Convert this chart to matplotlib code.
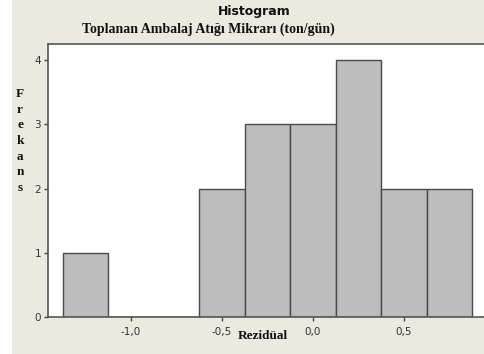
import matplotlib.pyplot as plt
from matplotlib.patches import Rectangle
from matplotlib.ticker import FuncFormatter

# histogram bins (centre of each class) and counts
bin_centers = [-1.25, -1.0, -0.75, -0.5, -0.25, 0.0, 0.25, 0.5, 0.75]
counts = [1, 0, 0, 2, 3, 3, 4, 2, 2]
bin_width = 0.25

xticks = [-1.0, -0.5, 0.0, 0.5]
yticks = [0, 1, 2, 3, 4]

W, H = 484, 354
bg = '#ECE9E0'

fig = plt.figure(figsize=(W / 100, H / 100), dpi=100, facecolor=bg)
# white strip on the left edge
fig.patches.append(Rectangle((0, 0), 12 / W, 1, transform=fig.transFigure,
                             facecolor='white', edgecolor='none', zorder=0))

left, right, top, bottom = 48, 495, 44, 317
ax = fig.add_axes([left / W, 1 - bottom / H, (right - left) / W, (bottom - top) / H])
ax.set_facecolor('white')

ax.bar(bin_centers, counts, width=bin_width, color='#BDBDBD',
       edgecolor='#4A4A4A', linewidth=1.0, zorder=2)

ax.set_xlim(-1.456, 1.0)
ax.set_ylim(0, 4.25)
ax.set_xticks(xticks)
ax.set_yticks(yticks)
ax.xaxis.set_major_formatter(FuncFormatter(lambda v, p: f'{v:.1f}'.replace('.', ',')))
ax.tick_params(direction='out', length=3, width=1, color='#444444',
               labelsize=7.5, labelcolor='#333333', pad=2)
ax.tick_params(axis='x', pad=4)
for s in ax.spines.values():
    s.set_color('#555555')
    s.set_linewidth(1.2)

# titles and axis labels
fig.text(254 / W, 1 - 11 / H, 'Histogram', ha='center', va='center',
         fontsize=9, fontweight='bold', family='DejaVu Sans', color='#111111')
fig.text(208 / W, 1 - 29 / H, 'Toplanan Ambalaj Atığı Mikrarı (ton/gün)',
         ha='center', va='center', fontsize=10, fontweight='bold',
         family='Liberation Serif', color='#111111')
fig.text(263 / W, 1 - 336 / H, 'Rezidüal', ha='center', va='center',
         fontsize=9.5, fontweight='bold', family='Liberation Serif', color='#111111')
fig.text(20 / W, 1 - 141 / H, '\n'.join('Frekans'), ha='center', va='center',
         fontsize=9.5, fontweight='bold', family='Liberation Serif',
         color='#111111', linespacing=1.4)

fig.savefig('out.png', dpi=100, facecolor=bg)
